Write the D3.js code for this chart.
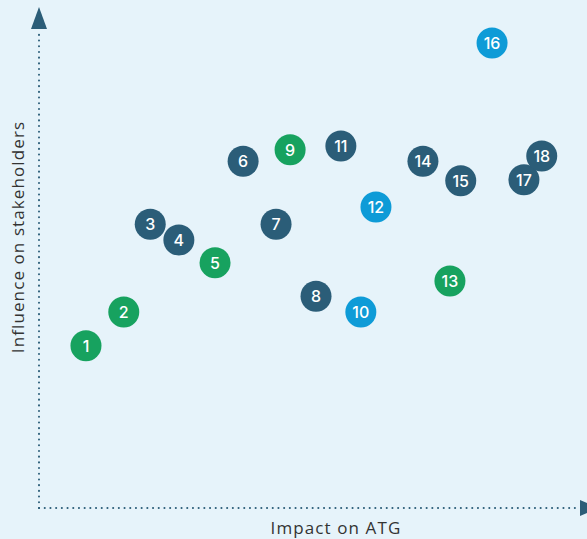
<!DOCTYPE html>
<html>
<head>
<meta charset="utf-8">
<script src="https://cdn.jsdelivr.net/npm/d3@7"></script>
<style>
  body { margin: 0; background: #e6f3fa; }
  svg { display: block; }
</style>
</head>
<body>
<div id="chart"></div>
<script>
// data
const ids = [1, 2, 3, 4, 5, 6, 7, 8, 9, 10, 11, 12, 13, 14, 15, 16, 17, 18];
const impact = [0.87, 1.57, 2.06, 2.59, 3.26, 3.78, 4.39, 5.13, 4.65, 5.96, 5.59, 6.24, 7.61, 7.11, 7.81, 8.39, 8.98, 9.31];
const influence = [3.40, 4.11, 5.95, 5.62, 5.14, 7.27, 5.95, 4.44, 7.51, 4.11, 7.59, 6.31, 4.76, 7.27, 6.86, 9.75, 6.88, 7.38];
const groups = ["g", "g", "d", "d", "g", "d", "d", "d", "g", "b", "d", "b", "g", "d", "d", "b", "d", "d"];

const width = 587, height = 539;
const colors = { d: "#2b5d78", g: "#17a25f", b: "#0e9bd7" };
const axisColor = "#2b5d78";

const svg = d3.select("#chart").append("svg")
  .attr("width", width)
  .attr("height", height);

svg.append("rect").attr("width", width).attr("height", height).attr("fill", "#e6f3fa");

const x = d3.scaleLinear().domain([0, 10]).range([39, 579]);
const y = d3.scaleLinear().domain([0, 10]).range([508, 31]);

// dotted axes
svg.append("line")
  .attr("x1", x(0)).attr("x2", x(0))
  .attr("y1", y(0)).attr("y2", 30)
  .attr("stroke", axisColor)
  .attr("stroke-width", 2)
  .attr("stroke-linecap", "round")
  .attr("stroke-dasharray", "0.1 5.6");

svg.append("line")
  .attr("x1", x(0)).attr("x2", 580)
  .attr("y1", y(0)).attr("y2", y(0))
  .attr("stroke", axisColor)
  .attr("stroke-width", 2)
  .attr("stroke-linecap", "round")
  .attr("stroke-dasharray", "0.1 5.6");

// arrowheads
svg.append("path")
  .attr("d", `M${x(0)},7 L${x(0) + 8},29 L${x(0) - 8},29 Z`)
  .attr("fill", axisColor);

svg.append("path")
  .attr("d", `M580,${y(0) - 8} L598,${y(0)} L580,${y(0) + 8} Z`)
  .attr("fill", axisColor);

// axis titles
const titleFont = "'Open Sans', 'DejaVu Sans', sans-serif";

svg.append("text")
  .attr("x", 336).attr("y", 534)
  .attr("text-anchor", "middle")
  .attr("font-family", titleFont)
  .attr("font-size", 17)
  .attr("letter-spacing", 1.1)
  .attr("fill", "#333")
  .text("Impact on ATG");

svg.append("text")
  .attr("transform", "translate(24,237) rotate(-90)")
  .attr("text-anchor", "middle")
  .attr("font-family", titleFont)
  .attr("font-size", 17)
  .attr("letter-spacing", 1.1)
  .attr("fill", "#333")
  .text("Influence on stakeholders");

// points
const pts = svg.selectAll("g.pt")
  .data(ids.map((id, i) => ({ id, x: impact[i], y: influence[i], g: groups[i] })))
  .enter().append("g")
  .attr("class", "pt")
  .attr("transform", d => `translate(${x(d.x)},${y(d.y)})`);

pts.append("circle")
  .attr("r", 15.5)
  .attr("fill", d => colors[d.g]);

pts.append("text")
  .attr("text-anchor", "middle")
  .attr("dy", "0.36em")
  .attr("font-family", "Inter, 'Open Sans', sans-serif")
  .attr("font-size", 16)
  .attr("font-weight", 500)
  .attr("fill", "#fff")
  .text(d => d.id);
</script>
</body>
</html>
